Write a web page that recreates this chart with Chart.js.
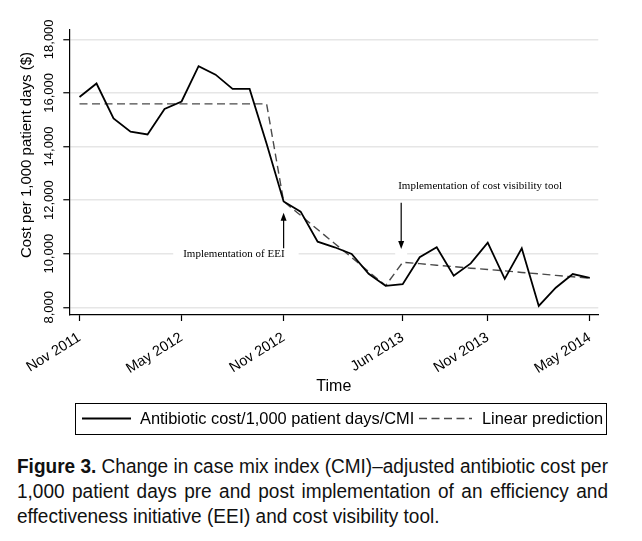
<!DOCTYPE html>
<html>
<head>
<meta charset="utf-8">
<script src="https://cdn.jsdelivr.net/npm/chart.js@4.4.1/dist/chart.umd.min.js"></script>
<style>
  body { margin: 0; background: #fff; }
  #wrap { position: relative; width: 642px; height: 440px; }
  #caption {
    position: absolute; left: 17px; top: 454px;
    font-family: "Liberation Sans", Arial, sans-serif;
    font-size: 20px; line-height: 25px; color: #111;
    transform-origin: 0 0;
  }
  #caption .j { text-align: justify; text-align-last: justify; }
  #caption span { white-space: nowrap; }
</style>
</head>
<body>
<div id="wrap"><canvas id="chart" width="642" height="440"></canvas></div>
<div id="caption">
  <div class="j"><span id="first"><b>Figure 3.</b> Change in case mix index (CMI)–adjusted antibiotic cost per</span></div>
  <div class="j">1,000 patient days pre and post implementation of an efficiency and</div>
  <div>effectiveness initiative (EEI) and cost visibility tool.</div>
</div>
<script>
// monthly series, Nov 2011 .. May 2014
const months = [
  'Nov 2011', 'Dec 2011',
  'Jan 2012', 'Feb 2012', 'Mar 2012', 'Apr 2012', 'May 2012', 'Jun 2012',
  'Jul 2012', 'Aug 2012', 'Sep 2012', 'Oct 2012', 'Nov 2012', 'Dec 2012',
  'Jan 2013', 'Feb 2013', 'Mar 2013', 'Apr 2013', 'May 2013', 'Jun 2013',
  'Jul 2013', 'Aug 2013', 'Sep 2013', 'Oct 2013', 'Nov 2013', 'Dec 2013',
  'Jan 2014', 'Feb 2014', 'Mar 2014', 'Apr 2014', 'May 2014'
];
const costPerCmi = [
  15850, 16350,
  15050, 14550, 14450, 15400, 15680, 17000,
  16680, 16150, 16150, 14100, 11950, 11570,
  10450, 10240, 9990, 9250, 8800, 8860,
  9870, 10240, 9180, 9640, 10410, 9060,
  10200, 8050, 8730, 9240, 9100
];
const linearPrediction = [
  15590, 15590,
  15590, 15590, 15590, 15590, 15590, 15590,
  15590, 15590, 15590, 15590, 11950, 11430,
  10900, 10380, 9860, 9330, 8810, 9680,
  9630, 9570, 9520, 9460, 9410, 9360,
  9300, 9250, 9190, 9140, 9090
];
const seriesNames = ['Antibiotic cost/1,000 patient days/CMI', 'Linear prediction'];
const xTickLabels = ['Nov 2011', 'May 2012', 'Nov 2012', 'Jun 2013', 'Nov 2013', 'May 2014'];
const yTickValues = [8000, 10000, 12000, 14000, 16000, 18000];

const sans = '"Liberation Sans", Arial, sans-serif';
const serif = '"Liberation Serif", "Times New Roman", serif';

// squeeze the caption like the condensed journal face, keep it justified
(function () {
  const cap = document.getElementById('caption');
  const natural = document.getElementById('first').getBoundingClientRect().width;
  const k = 591 / natural;
  cap.style.width = (591 / k) + 'px';
  cap.style.transform = 'scaleX(' + k + ')';
})();

function arrow(ctx, x, y0, y1) {
  const dir = y1 > y0 ? 1 : -1;
  ctx.beginPath();
  ctx.moveTo(x, y0);
  ctx.lineTo(x, y1 - dir * 6);
  ctx.stroke();
  ctx.beginPath();
  ctx.moveTo(x, y1);
  ctx.lineTo(x - 3, y1 - dir * 8);
  ctx.lineTo(x + 3, y1 - dir * 8);
  ctx.closePath();
  ctx.fill();
}

// arrows + notes, under the lines
const notes = {
  id: 'notes',
  beforeDatasetsDraw(chart) {
    const { ctx, scales: { x, y } } = chart;
    ctx.save();
    ctx.font = '11px ' + serif;
    ctx.textBaseline = 'middle';
    ctx.strokeStyle = '#000';
    ctx.lineWidth = 1.2;

    // EEI
    let ax = x.getPixelForValue(months.indexOf('Nov 2012'));
    let ty = y.getPixelForValue(10000);
    let t = 'Implementation of EEI';
    let w = ctx.measureText(t).width;
    ctx.fillStyle = '#fff';
    ctx.fillRect(ax - w - 9, ty - 5, w + 24, 10);
    ctx.fillStyle = '#000';
    ctx.textAlign = 'right';
    ctx.fillText(t, ax + 1, ty);
    arrow(ctx, ax, y.getPixelForValue(10200), y.getPixelForValue(11530));

    // cost visibility tool
    ax = x.getPixelForValue(months.indexOf('Jun 2013')) - 1.5;
    ty = y.getPixelForValue(12530);
    t = 'Implementation of cost visibility tool';
    ctx.textAlign = 'left';
    ctx.fillText(t, ax - 3, ty);
    const tip = y.getPixelForValue(10175);
    ctx.fillStyle = '#fff';
    ctx.fillRect(ax - 6, tip, 12, 7);
    ctx.fillStyle = '#000';
    arrow(ctx, ax, y.getPixelForValue(11900), tip);
    ctx.restore();
  }
};

// y tick labels (vertical), y title, framed legend
const frame = {
  id: 'frame',
  afterDraw(chart) {
    const { ctx, scales: { y } } = chart;
    ctx.save();
    ctx.fillStyle = '#000';
    ctx.textAlign = 'center';
    ctx.textBaseline = 'middle';

    ctx.font = '13px ' + sans;
    yTickValues.forEach(v => {
      ctx.save();
      ctx.translate(49.5, y.getPixelForValue(v));
      ctx.rotate(-Math.PI / 2);
      ctx.fillText(v.toLocaleString('en-US'), 0, 0);
      ctx.restore();
    });

    ctx.save();
    ctx.font = '15px ' + sans;
    ctx.translate(27, 155);
    ctx.rotate(-Math.PI / 2);
    ctx.fillText('Cost per 1,000 patient days ($)', 0, 0);
    ctx.restore();

    // legend
    ctx.strokeStyle = '#000';
    ctx.lineWidth = 1;
    ctx.strokeRect(75.5, 403.5, 531, 31);
    const spots = [[82, 131, 140], [419, 472, 482]];
    ctx.font = '16.4px ' + sans;
    ctx.textAlign = 'left';
    chart.data.datasets.forEach((ds, i) => {
      const [x0, x1, tx] = spots[i];
      ctx.save();
      ctx.strokeStyle = ds.borderColor;
      ctx.lineWidth = ds.borderWidth;
      ctx.setLineDash(ds.borderDash || []);
      ctx.beginPath();
      ctx.moveTo(x0, 418.5);
      ctx.lineTo(x1, 418.5);
      ctx.stroke();
      ctx.restore();
      ctx.fillText(ds.label, tx, 419.5);
    });
    ctx.restore();
  }
};

new Chart(document.getElementById('chart'), {
  type: 'line',
  data: {
    datasets: [
      {
        label: seriesNames[0],
        data: costPerCmi.map((v, i) => ({ x: i, y: v })),
        borderColor: '#000',
        borderWidth: 1.8,
        pointRadius: 0,
        tension: 0,
        fill: false
      },
      {
        label: seriesNames[1],
        data: linearPrediction.map((v, i) => ({ x: i, y: v })),
        borderColor: '#4a4a4a',
        borderWidth: 1.4,
        borderDash: [8, 4.5],
        pointRadius: 0,
        tension: 0,
        fill: false
      }
    ]
  },
  options: {
    responsive: false,
    animation: false,
    events: [],
    layout: { padding: { left: 0, right: 43.7, top: 30, bottom: 40 } },
    plugins: { legend: { display: false }, tooltip: { enabled: false } },
    scales: {
      x: {
        type: 'linear',
        min: -0.6,
        max: 30.5,
        afterBuildTicks: s => { s.ticks = xTickLabels.map(l => ({ value: months.indexOf(l) })); },
        afterFit: s => { s.height = 85; },
        ticks: {
          autoSkip: false,
          minRotation: 32,
          maxRotation: 32,
          padding: 8,
          color: '#000',
          font: { family: sans, size: 14.5 },
          callback: (v, i) => xTickLabels[i]
        },
        grid: { drawOnChartArea: false, tickLength: 6, tickColor: '#000', tickWidth: 1.2 },
        border: { color: '#000', width: 1.2 },
        title: {
          display: true, text: 'Time', color: '#000',
          font: { family: sans, size: 16 }, padding: { top: 0, bottom: 4 }
        }
      },
      y: {
        min: 7713,
        max: 18347,
        afterBuildTicks: s => { s.ticks = yTickValues.map(v => ({ value: v })); },
        afterFit: s => { s.width = 69.3; },
        ticks: { display: false },
        grid: { color: '#e6e6e6', lineWidth: 1.5, tickLength: 6, tickColor: '#000', tickWidth: 1.2 },
        border: { color: '#000', width: 1.2 }
      }
    }
  },
  plugins: [notes, frame]
});
</script>
</body>
</html>
